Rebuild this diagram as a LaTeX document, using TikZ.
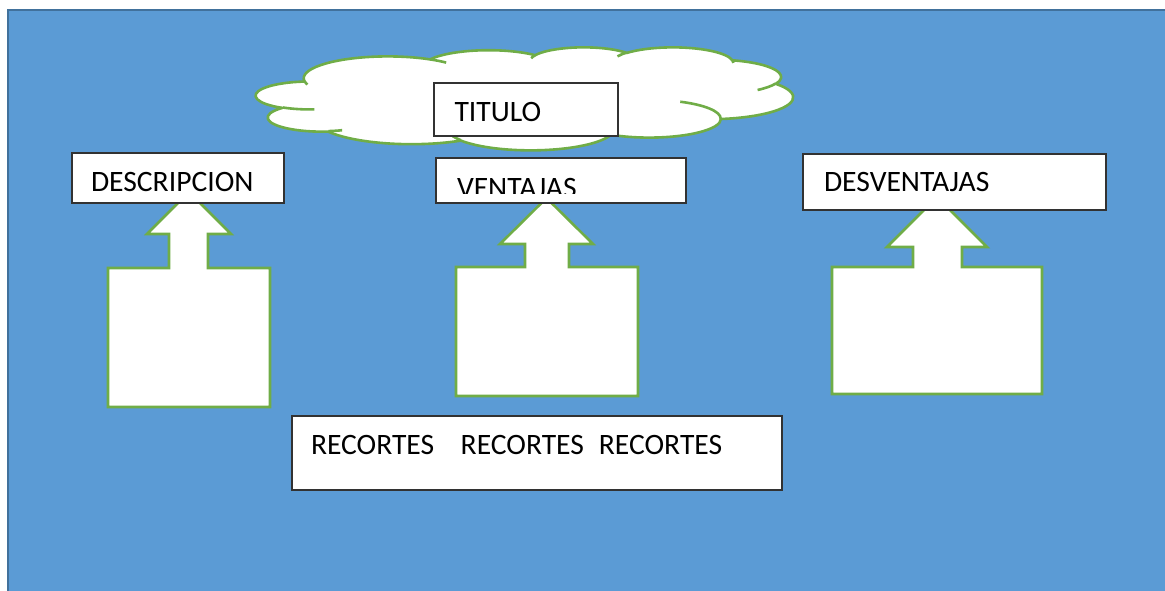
\documentclass[tikz,border=0pt]{standalone}
\usepackage{fontspec}
\setmainfont{Carlito}
\definecolor{bgblue}{RGB}{91,155,213}
\definecolor{bgedge}{RGB}{65,113,156}
\definecolor{shapegreen}{RGB}{112,173,71}
\definecolor{boxline}{RGB}{50,50,50}
% convert an OOXML (visual) angle to a parametric ellipse angle
\newcommand\ooangle[4]{%
  \pgfmathsetmacro\ootmp{atan2((#2)*sin(#4),(#3)*cos(#4))}%
  \pgfmathsetmacro#1{\ootmp+360*round(((#4)-\ootmp)/360)}%
}
\newcommand\ooarcset[6]{%
  \ooangle{#1}{#3}{#4}{#5}%
  \pgfmathsetmacro\ooendang{(#5)+(#6)}%
  \ooangle{#2}{#3}{#4}{\ooendang}%
}
\begin{document}
\begin{tikzpicture}[x=1pt,y=-1pt,
  every node/.style={inner sep=0pt, outer sep=0pt},
  bgpanel/.style={fill=bgblue, draw=bgedge, line width=2pt},
  cloudshape/.style={fill=white, draw=shapegreen, line width=2.6pt, line join=round},
  cloudnotch/.style={draw=shapegreen, line width=2.6pt},
  callout/.style={fill=white, draw=shapegreen, line width=2.6pt, line join=miter},
  labelbox/.style={draw=boxline, fill=white, line width=1.3pt, rectangle, anchor=north west},
  labeltext/.style={anchor=base west, font=\fontsize{29.6}{34}\selectfont, text=black}]

\useasboundingbox (0,0) rectangle (1165,591);
\clip (0,0) rectangle (1165,591);
\fill[white] (0,0) rectangle (1165,591);
\draw[bgpanel] (8,10) rectangle (1190,610);

% ---------- cloud ----------
\begin{scope}[shift={(256,47)}, x=1.2431pt, y=-0.2384pt]
  \ooarcset{\CLsA}{\CLeA}{67.53}{91.90}{-190.4875}{123.7805}
  \ooarcset{\CLsB}{\CLeB}{53.33}{72.67}{-144.1024}{89.9452}
  \ooarcset{\CLsC}{\CLeC}{43.65}{59.45}{-145.8079}{99.7230}
  \ooarcset{\CLsD}{\CLeD}{48.57}{65.95}{-130.9861}{117.2417}
  \ooarcset{\CLsE}{\CLeE}{53.33}{72.73}{-78.7089}{109.0269}
  \ooarcset{\CLsF}{\CLeF}{67.75}{92.20}{-46.2673}{130.2690}
  \ooarcset{\CLsG}{\CLeG}{57.85}{78.67}{0.6250}{114.0333}
  \ooarcset{\CLsH}{\CLeH}{67.52}{92.15}{22.4516}{115.1726}
  \ooarcset{\CLsI}{\CLeI}{77.20}{105.43}{66.2426}{75.7110}
  \ooarcset{\CLsJ}{\CLeJ}{43.60}{59.18}{-274.9421}{146.7356}
  \ooarcset{\CLsK}{\CLeK}{43.45}{59.45}{-246.8285}{152.5189}
  \path[cloudshape] (39.00,143.70)
    arc[start angle=\CLsA, end angle=\CLeA, x radius=67.53, y radius=91.90]
    arc[start angle=\CLsB, end angle=\CLeB, x radius=53.33, y radius=72.67]
    arc[start angle=\CLsC, end angle=\CLeC, x radius=43.65, y radius=59.45]
    arc[start angle=\CLsD, end angle=\CLeD, x radius=48.57, y radius=65.95]
    arc[start angle=\CLsE, end angle=\CLeE, x radius=53.33, y radius=72.73]
    arc[start angle=\CLsF, end angle=\CLeF, x radius=67.75, y radius=92.20]
    arc[start angle=\CLsG, end angle=\CLeG, x radius=57.85, y radius=78.67]
    arc[start angle=\CLsH, end angle=\CLeH, x radius=67.52, y radius=92.15]
    arc[start angle=\CLsI, end angle=\CLeI, x radius=77.20, y radius=105.43]
    arc[start angle=\CLsJ, end angle=\CLeJ, x radius=43.60, y radius=59.18]
    arc[start angle=\CLsK, end angle=\CLeK, x radius=43.45, y radius=59.45]
    -- cycle;
  % inner notches of the cloud
  \ooarcset{\NTsA}{\NTeA}{43.45}{59.45}{86.7420}{26.4295}
  \ooarcset{\NTsB}{\NTeB}{43.60}{59.18}{73.6105}{11.4475}
  \ooarcset{\NTsC}{\NTeC}{67.52}{92.15}{137.6242}{14.0811}
  \ooarcset{\NTsD}{\NTeD}{67.52}{92.15}{6.4533}{15.9984}
  \ooarcset{\NTsE}{\NTeE}{57.85}{78.67}{-70.2924}{70.9174}
  \ooarcset{\NTsF}{\NTeF}{53.33}{72.73}{30.3180}{27.7515}
  \ooarcset{\NTsG}{\NTeG}{48.57}{65.95}{-13.7443}{14.8589}
  \ooarcset{\NTsH}{\NTeH}{48.57}{65.95}{-149.1815}{18.1954}
  \ooarcset{\NTsI}{\NTeI}{43.65}{59.45}{-163.4943}{17.6864}
  \ooarcset{\NTsJ}{\NTeJ}{67.53}{91.90}{-66.7070}{12.3194}
  \ooarcset{\NTsK}{\NTeK}{67.53}{91.90}{157.6544}{11.8582}
  \draw[cloudnotch] (46.93,261.77) arc[start angle=\NTsA, end angle=\NTeA, x radius=43.45, y radius=59.45];
  \draw[cloudnotch] (69.28,348.99) arc[start angle=\NTsB, end angle=\NTeB, x radius=43.60, y radius=59.18];
  \draw[cloudnotch] (164.78,390.90) arc[start angle=\NTsC, end angle=\NTeC, x radius=67.52, y radius=92.15];
  \draw[cloudnotch] (288.27,347.51) arc[start angle=\NTsD, end angle=\NTeD, x radius=67.52, y radius=92.15];
  \draw[cloudnotch] (341.29,229.54) arc[start angle=\NTsE, end angle=\NTeE, x radius=57.85, y radius=78.67];
  \draw[cloudnotch] (417.98,153.54) arc[start angle=\NTsF, end angle=\NTeF, x radius=53.33, y radius=72.73];
  \draw[cloudnotch] (383.24,54.26) arc[start angle=\NTsG, end angle=\NTeG, x radius=48.57, y radius=65.95];
  \draw[cloudnotch] (290.78,39.52) arc[start angle=\NTsH, end angle=\NTeH, x radius=48.57, y radius=65.95];
  \draw[cloudnotch] (221.41,47.20) arc[start angle=\NTsI, end angle=\NTeI, x radius=43.65, y radius=59.45];
  \draw[cloudnotch] (140.00,51.92) arc[start angle=\NTsJ, end angle=\NTeJ, x radius=67.53, y radius=91.90];
  \draw[cloudnotch] (41.27,157.89) arc[start angle=\NTsK, end angle=\NTeK, x radius=67.53, y radius=91.90];
\end{scope}

% ---------- up-arrow callouts ----------
\draw[callout] (108,407) -- (108,268) -- (169,268) -- (169,234) -- (147,234) -- (189,192)
  -- (231,234) -- (208,234) -- (208,268) -- (270,268) -- (270,407) -- cycle;
\draw[callout] (456,396) -- (456,267) -- (525,267) -- (525,244) -- (500,244) -- (546.5,198)
  -- (593,244) -- (569,244) -- (569,267) -- (638,267) -- (638,396) -- cycle;
\draw[callout] (832,394) -- (832,267) -- (913,267) -- (913,247) -- (887,247) -- (937,197)
  -- (987,247) -- (962,247) -- (962,267) -- (1042,267) -- (1042,394) -- cycle;

% ---------- label boxes ----------
\node[labelbox, minimum width=184pt, minimum height=53pt] (tituloBox) at (434,83) {};
\node[labelbox, minimum width=212pt, minimum height=50pt] (descBox) at (72,153) {};
\node[labelbox, minimum width=250pt, minimum height=45pt] (ventBox) at (436,158) {};
\node[labelbox, minimum width=303pt, minimum height=56pt] (desvBox) at (803,154) {};
\node[labelbox, minimum width=490pt, minimum height=74pt] (recBox) at (292,416) {};

\node[labeltext] (tituloText) at (454.5,122) {TITULO};
\node[labeltext] (descText) at (91,192) {DESCRIPCION};
\begin{scope}
  \clip (437,158) rectangle (685,193.5);
  \node[labeltext] (ventText) at (457,197) {VENTAJAS};
\end{scope}
\node[labeltext] (desvText) at (824,192) {DESVENTAJAS};
\node[labeltext] (recText) at (311,454) {RECORTES\hspace*{26.5pt}RECORTES\hspace*{15pt}RECORTES};
\end{tikzpicture}
\end{document}
